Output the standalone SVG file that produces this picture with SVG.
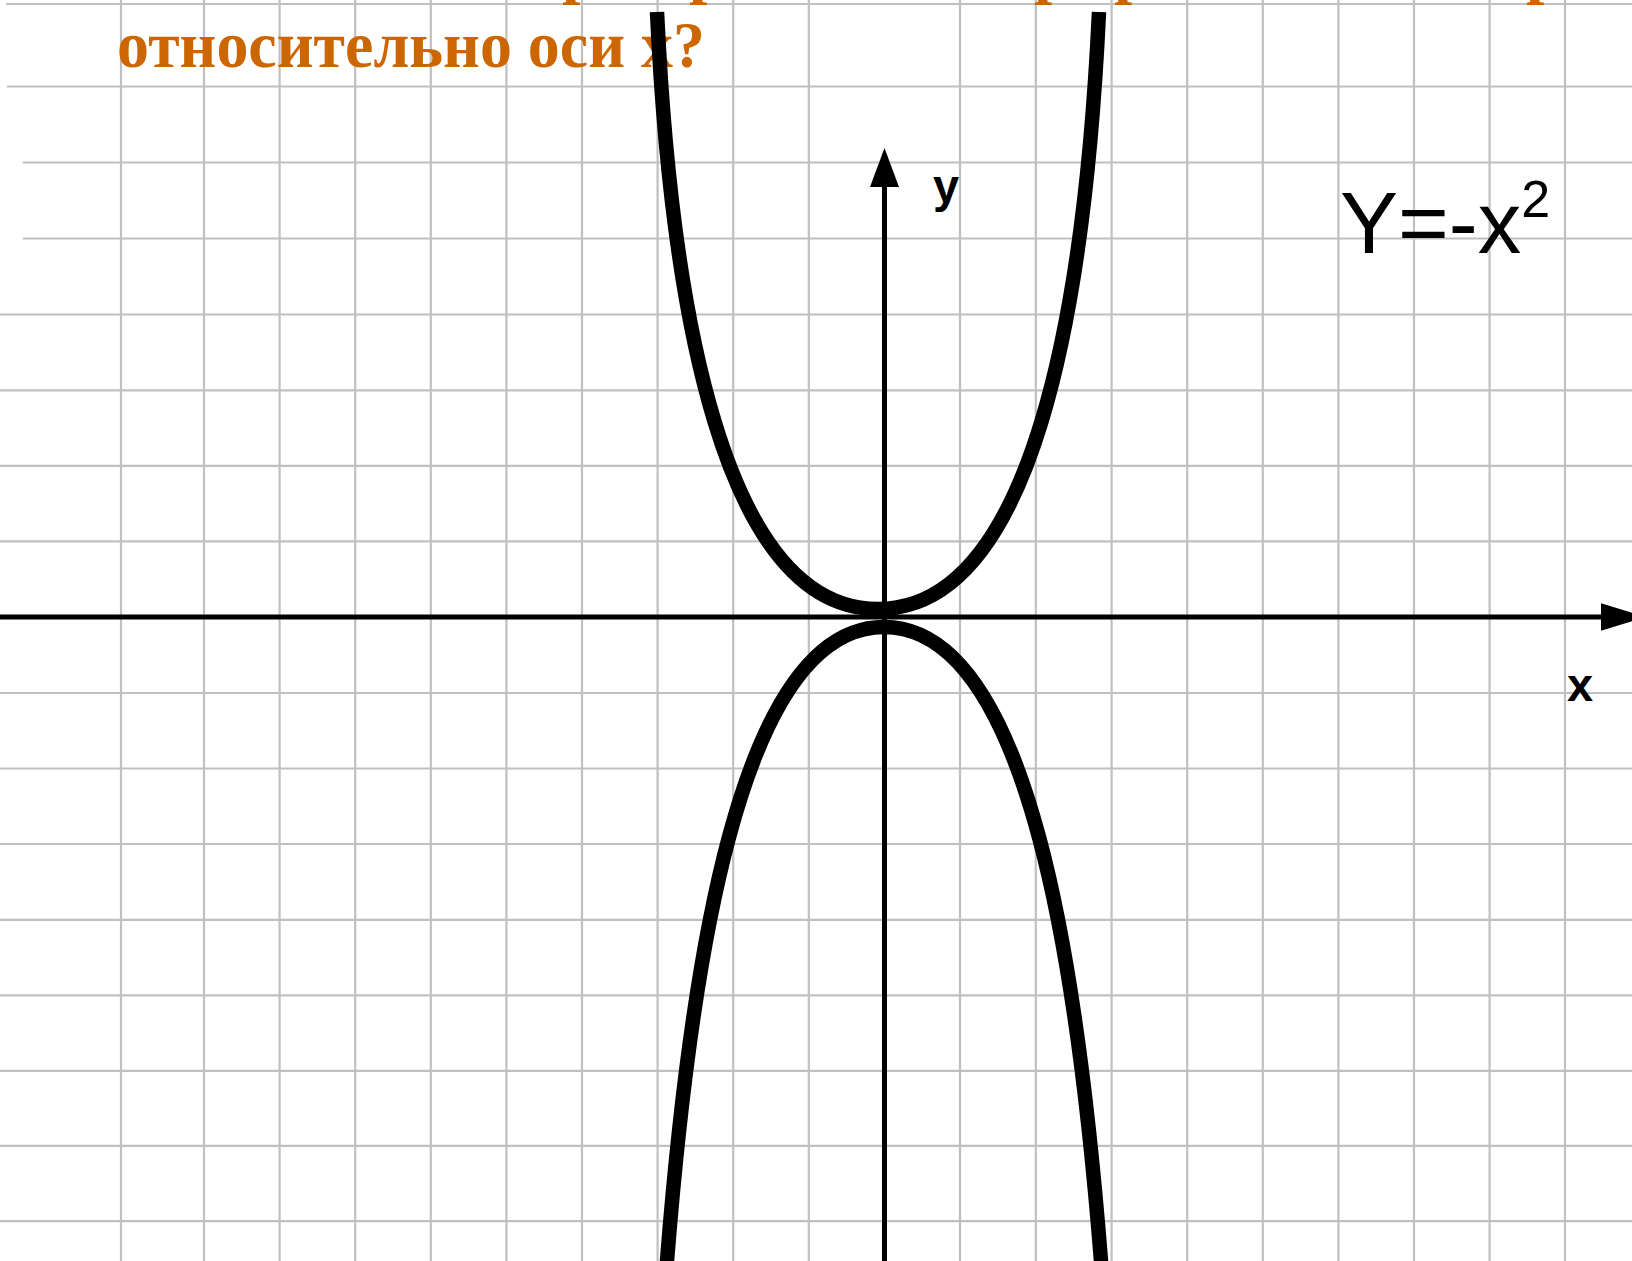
<svg xmlns="http://www.w3.org/2000/svg" width="1632" height="1261" viewBox="0 0 1632 1261">
  <style>
    .grid line { stroke: #c0c0c0; stroke-width: 2.2; }
    .axis { stroke: #000; stroke-width: 5; fill: none; }
    .curve { stroke: #000; stroke-width: 14.5; fill: none; stroke-linecap: butt; }
    .title { font-family: "Liberation Serif", "Times New Roman", serif; font-weight: bold; font-size: 66px; fill: #cc6600; }
    .lbl { font-family: "Liberation Sans", Arial, sans-serif; fill: #000; }
  </style>
  <rect width="1632" height="1261" fill="#fff"/>
  <g id="grid" class="grid">
    <line x1="121" y1="0" x2="121" y2="1261"/>
    <line x1="204" y1="0" x2="204" y2="1261"/>
    <line x1="279.6" y1="0" x2="279.6" y2="1261"/>
    <line x1="355.2" y1="0" x2="355.2" y2="1261"/>
    <line x1="430.8" y1="0" x2="430.8" y2="1261"/>
    <line x1="506.4" y1="0" x2="506.4" y2="1261"/>
    <line x1="582" y1="0" x2="582" y2="1261"/>
    <line x1="657.6" y1="0" x2="657.6" y2="1261"/>
    <line x1="733.2" y1="0" x2="733.2" y2="1261"/>
    <line x1="808.8" y1="0" x2="808.8" y2="1261"/>
    <line x1="960" y1="0" x2="960" y2="1261"/>
    <line x1="1035.8" y1="0" x2="1035.8" y2="1261"/>
    <line x1="1111.6" y1="0" x2="1111.6" y2="1261"/>
    <line x1="1187.2" y1="0" x2="1187.2" y2="1261"/>
    <line x1="1262.8" y1="0" x2="1262.8" y2="1261"/>
    <line x1="1338.4" y1="0" x2="1338.4" y2="1261"/>
    <line x1="1414" y1="0" x2="1414" y2="1261"/>
    <line x1="1489.6" y1="0" x2="1489.6" y2="1261"/>
    <line x1="1565" y1="0" x2="1565" y2="1261"/>
    <line x1="6" y1="4" x2="1632" y2="4"/>
    <line x1="7" y1="86.5" x2="1632" y2="86.5"/>
    <line x1="22.7" y1="162.5" x2="1632" y2="162.5"/>
    <line x1="22.7" y1="238.5" x2="1632" y2="238.5"/>
    <line x1="0" y1="314.5" x2="1632" y2="314.5"/>
    <line x1="0" y1="390.3" x2="1632" y2="390.3"/>
    <line x1="0" y1="465.8" x2="1632" y2="465.8"/>
    <line x1="0" y1="541.3" x2="1632" y2="541.3"/>
    <line x1="0" y1="693" x2="1632" y2="693"/>
    <line x1="0" y1="768.5" x2="1632" y2="768.5"/>
    <line x1="0" y1="844" x2="1632" y2="844"/>
    <line x1="0" y1="919.8" x2="1632" y2="919.8"/>
    <line x1="0" y1="995.3" x2="1632" y2="995.3"/>
    <line x1="0" y1="1070.8" x2="1632" y2="1070.8"/>
    <line x1="0" y1="1145.8" x2="1632" y2="1145.8"/>
    <line x1="0" y1="1221.2" x2="1632" y2="1221.2"/>
  </g>
  <g id="title">
    <text class="title" y="-9"><tspan x="562">р</tspan><tspan x="689">р</tspan><tspan x="1034">р</tspan><tspan x="1114">р</tspan><tspan x="1526">р</tspan></text>
    <text class="title" x="117" y="67" textLength="588" lengthAdjust="spacingAndGlyphs">относительно оси х?</text>
  </g>
  <g id="axes">
    <line class="axis" x1="0" y1="617" x2="1604" y2="617"/>
    <polygon points="1646,617 1601,603.3 1601,630.7" fill="#000"/>
    <line class="axis" x1="884.5" y1="184" x2="884.5" y2="1261"/>
    <polygon points="884.5,148 870,187 899,187" fill="#000"/>
  </g>
  <g id="curves">
    <path class="curve" d="M878,609 C723,609 671,309 657,12"/>
    <path class="curve" d="M878,609 C1033,609 1085,309 1099,12"/>
    <path class="curve" d="M884,627 C739,627 688.7,967 665,1287"/>
    <path class="curve" d="M884,627 C1029,627 1079.3,967 1103,1287"/>
  </g>
  <g id="labels">
    <text class="lbl" x="933" y="202" font-size="47" font-weight="bold">y</text>
    <text class="lbl" x="1567" y="701" font-size="47" font-weight="bold">x</text>
    <text class="lbl" x="1340" y="253" font-size="87">Y=-x<tspan font-size="52" dy="-36">2</tspan></text>
  </g>
</svg>
